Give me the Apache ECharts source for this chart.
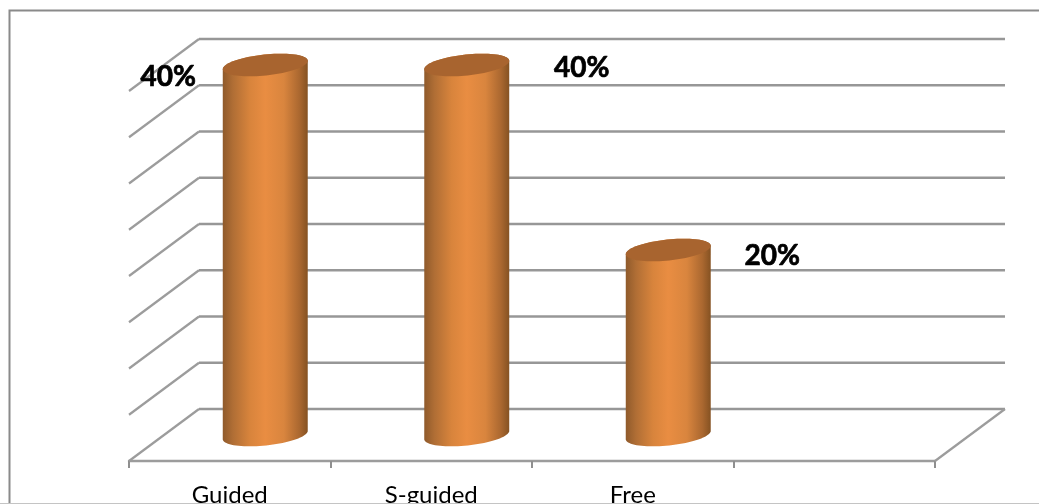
<!DOCTYPE html>
<html>
<head>
<meta charset="utf-8">
<style>html,body{margin:0;padding:0;background:#fff}#c{width:1039px;height:504px}</style>
<script src="https://cdn.jsdelivr.net/npm/echarts@6/dist/echarts.min.js"></script>
</head>
<body>
<div id="c"></div>
<script>
var categories = ['Guided', 'S-guided', 'Free', ''];
var values = [40, 40, 20];
var valueLabels = ['40%', '40%', '20%'];
var gridValues = [0, 5, 10, 15, 20, 25, 30, 35, 40];

// Style constants for the fake 3D look
var DEPTH_X = 70, DEPTH_Y = 52;
var MID_X = 35.5, MID_Y = 26;
var TILT = -6 * Math.PI / 180;
var BAR_RATIO = 0.212, ELLIPSE_B = 10.5;
var LABEL_SHIFT = [[-97, 12], [115, 3], [104, 6]];

function ell(cx, cy, a, b, from, to, n) {
  var pts = [];
  for (var i = 0; i <= n; i++) {
    var t = from + (to - from) * i / n;
    pts.push([
      cx + a * Math.cos(t) * Math.cos(TILT) - b * Math.sin(t) * Math.sin(TILT),
      cy + a * Math.cos(t) * Math.sin(TILT) + b * Math.sin(t) * Math.cos(TILT)
    ]);
  }
  return pts;
}

var chart = echarts.init(document.getElementById('c'), null, {renderer: 'canvas'});
chart.setOption({
  animation: false,
  backgroundColor: '#fff',
  grid: {left: 129, top: 91, width: 806, height: 370, containLabel: false, outerBoundsMode: 'none'},
  xAxis: {
    type: 'category', data: categories, boundaryGap: true,
    axisLine: {lineStyle: {color: '#9c9c9c', width: 2.4}},
    axisTick: {show: true, alignWithLabel: false, length: 7, lineStyle: {color: '#8f8f8f', width: 2}},
    axisLabel: {color: '#000', fontFamily: 'Lato', fontSize: 24, margin: 22, interval: 0},
    splitLine: {show: false}
  },
  yAxis: {
    type: 'value', min: 0, max: 40, interval: 5,
    axisLine: {show: false}, axisTick: {show: false}, axisLabel: {show: false}, splitLine: {show: false}
  },
  series: [
    {
      type: 'custom', z: 1, silent: true,
      data: gridValues.map(function (v) { return [0, v]; }),
      renderItem: function (params, api) {
        var v = api.value(1);
        var y = api.coord([0, v])[1];
        var x0 = params.coordSys.x, x1 = x0 + params.coordSys.width;
        var children = [
          {type: 'line', shape: {x1: x0, y1: y, x2: x0 + DEPTH_X, y2: y - DEPTH_Y},
           style: {stroke: '#9c9c9c', lineWidth: 2.2}},
          {type: 'line', shape: {x1: x0 + DEPTH_X, y1: y - DEPTH_Y, x2: x1 + DEPTH_X, y2: y - DEPTH_Y},
           style: {stroke: '#979797', lineWidth: 2.4}}
        ];
        if (v === 0) {
          children.push({type: 'line', shape: {x1: x1, y1: y, x2: x1 + DEPTH_X, y2: y - DEPTH_Y},
            style: {stroke: '#9c9c9c', lineWidth: 2.2}});
        }
        return {type: 'group', children: children};
      }
    },
    {
      type: 'custom', z: 2, silent: true,
      data: values.map(function (v, i) { return [i, v]; }),
      renderItem: function (params, api) {
        var i = api.value(0), v = api.value(1);
        var top = api.coord([i, v]), base = api.coord([i, 0]);
        var a = api.size([1, 0])[0] * BAR_RATIO, b = ELLIPSE_B;
        var cx = top[0] + MID_X, ty = top[1] - MID_Y, by = base[1] - MID_Y;
        var body = ell(cx, by, a, b, 0, Math.PI, 40).concat(ell(cx, ty, a, b, Math.PI, 2 * Math.PI, 40));
        var cap = ell(cx, ty, a, b, 0, 2 * Math.PI, 80);
        var grad = new echarts.graphic.LinearGradient(0, 0, 1, 0, [
          {offset: 0, color: '#8f5a2b'},
          {offset: 0.12, color: '#b06e35'},
          {offset: 0.32, color: '#d8843c'},
          {offset: 0.5, color: '#e98d42'},
          {offset: 0.72, color: '#d9853e'},
          {offset: 0.9, color: '#ab6830'},
          {offset: 1, color: '#855222'}
        ]);
        var s = LABEL_SHIFT[i];
        return {type: 'group', children: [
          {type: 'polygon', shape: {points: body}, style: {fill: grad}},
          {type: 'polygon', shape: {points: cap}, style: {fill: '#a8642f'}},
          {type: 'text', z2: 10, style: {
            text: valueLabels[i], x: cx + s[0], y: ty + s[1], align: 'center', verticalAlign: 'middle',
            fill: '#000', stroke: '#000', lineWidth: 0.7, fontFamily: 'Lato', fontWeight: 'bold', fontSize: 28
          }}
        ]};
      }
    }
  ],
  graphic: [
    {type: 'rect', z: 100, silent: true, shape: {x: 0, y: 503, width: 1039, height: 1}, style: {fill: '#c4c4c4'}},
    {type: 'polyline', z: 101, silent: true, shape: {points: [[9.5, 503], [9.5, 10.5], [1039, 10.5]]},
     style: {stroke: '#8a8a8a', lineWidth: 2, fill: null}}
  ]
});
</script>
</body>
</html>
